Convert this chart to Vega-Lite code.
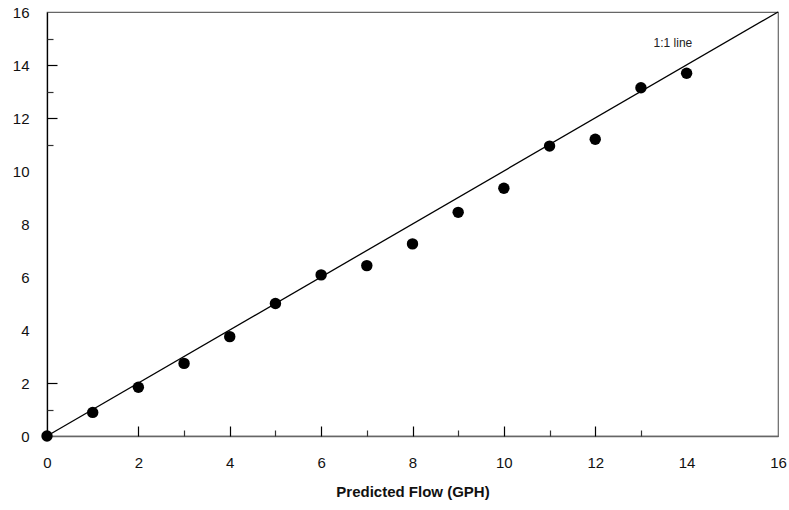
{
  "$schema": "https://vega.github.io/schema/vega-lite/v6.json",
  "width": 731,
  "height": 424,
  "autosize": {"type": "none"},
  "padding": {"left": 47, "top": 12, "right": 11, "bottom": 74},
  "background": "white",
  "config": {
    "view": {"stroke": "#666", "strokeWidth": 1.2},
    "font": "Liberation Sans",
    "axis": {"grid": false, "labelFont": "Liberation Sans", "titleFont": "Liberation Sans"}
  },
  "resolve": {"axis": {"x": "independent", "y": "independent"}},
  "layer": [
    {
      "data": {"values": [{"px": 0, "py": 0}, {"px": 16, "py": 16}]},
      "mark": {"type": "line", "color": "black", "strokeWidth": 1.3},
      "encoding": {
        "x": {"field": "px", "type": "quantitative", "scale": {"domain": [0, 16], "nice": false},
          "axis": {"orient": "bottom", "values": [0, 2, 4, 6, 8, 10, 12, 14, 16], "ticks": false, "domainColor": "#666", "domainWidth": 1.5,
            "labelFontSize": 15, "labelColor": "#111", "labelPadding": 19, "labelFlush": false,
            "title": "Predicted Flow (GPH)", "titleFontSize": 15, "titleFontWeight": "bold", "titleColor": "#111", "titlePadding": 14}},
        "y": {"field": "py", "type": "quantitative", "scale": {"domain": [0, 16], "nice": false},
          "axis": {"orient": "left", "values": [0, 2, 4, 6, 8, 10, 12, 14, 16], "ticks": false, "domainColor": "black", "domainWidth": 1.3,
            "labelFontSize": 15, "labelColor": "#111", "labelPadding": 18, "labelFlush": false, "title": null}}
      }
    },
    {
      "data": {"values": [
        {"predicted": 0, "measured": 0},
        {"predicted": 1, "measured": 0.89},
        {"predicted": 2, "measured": 1.84},
        {"predicted": 3, "measured": 2.74},
        {"predicted": 4, "measured": 3.75},
        {"predicted": 5, "measured": 5.0},
        {"predicted": 6, "measured": 6.08},
        {"predicted": 7, "measured": 6.43},
        {"predicted": 8, "measured": 7.25},
        {"predicted": 9, "measured": 8.44},
        {"predicted": 10, "measured": 9.35},
        {"predicted": 11, "measured": 10.94},
        {"predicted": 12, "measured": 11.2},
        {"predicted": 13, "measured": 13.14},
        {"predicted": 14, "measured": 13.69}
      ]},
      "mark": {"type": "point", "filled": true, "shape": "circle", "color": "black", "opacity": 1, "size": 130},
      "encoding": {
        "x": {"field": "predicted", "type": "quantitative", "scale": {"domain": [0, 16], "nice": false},
          "axis": {"orient": "top", "offset": -424, "values": [2, 4, 6, 8, 10, 12], "tickSize": 10, "tickColor": "black", "tickWidth": 1.2, "labels": false, "domain": false, "title": null}},
        "y": {"field": "measured", "type": "quantitative", "scale": {"domain": [0, 16], "nice": false},
          "axis": {"orient": "right", "offset": -731, "values": [2, 12, 14], "tickSize": 10, "tickColor": "black", "tickWidth": 1.2, "labels": false, "domain": false, "title": null}}
      }
    },
    {
      "data": {"values": [{"lx": 13.7, "ly": 14.83, "label": "1:1  line"}]},
      "mark": {"type": "text", "fontSize": 12, "color": "#222", "font": "Liberation Sans"},
      "encoding": {
        "text": {"field": "label"},
        "x": {"field": "lx", "type": "quantitative", "scale": {"domain": [0, 16], "nice": false},
          "axis": {"orient": "top", "offset": -424, "values": [3, 5, 7, 9, 11, 13], "tickSize": 6, "tickColor": "#333", "tickWidth": 1.2, "labels": false, "domain": false, "title": null}},
        "y": {"field": "ly", "type": "quantitative", "scale": {"domain": [0, 16], "nice": false},
          "axis": {"orient": "right", "offset": -731, "values": [1, 11, 13, 15], "tickSize": 6, "tickColor": "#333", "tickWidth": 1.2, "labels": false, "domain": false, "title": null}}
      }
    }
  ]
}
